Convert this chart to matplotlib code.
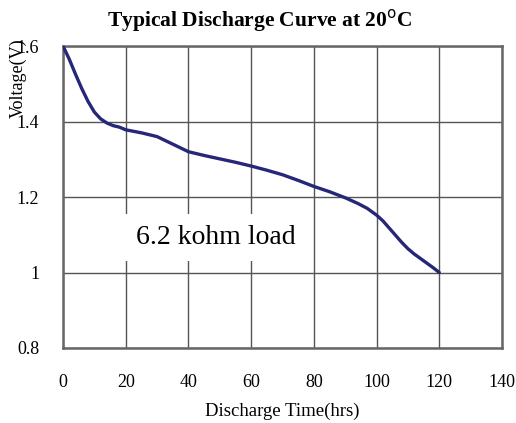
import matplotlib
matplotlib.use("Agg")
import matplotlib.pyplot as plt

hours = [0, 2, 4, 6, 8, 10, 12, 14, 16, 18, 20, 25, 30, 35, 40, 45, 50, 55, 60, 65, 70, 75, 80, 85, 90, 94, 97, 100, 102, 104, 106, 108, 110, 112, 115, 118, 120]
volts = [1.600, 1.565, 1.525, 1.487, 1.453, 1.425, 1.407, 1.396, 1.389, 1.385, 1.378, 1.370, 1.360, 1.340, 1.320, 1.310, 1.301, 1.292, 1.282, 1.271, 1.259, 1.244, 1.228, 1.214, 1.198, 1.183, 1.170, 1.152, 1.137, 1.118, 1.099, 1.080, 1.063, 1.049, 1.031, 1.013, 1.000]
x_ticks = [0, 20, 40, 60, 80, 100, 120, 140]
y_ticks = [0.8, 1.0, 1.2, 1.4, 1.6]
y_tick_labels = ["0.8", "1", "1.2", "1.4", "1.6"]

plt.rcParams['font.family'] = ['Liberation Serif', 'DejaVu Serif']

fig = plt.figure(figsize=(5.16, 4.23), dpi=100)
ax = fig.add_axes([63/516, 1-348/423, (502-63)/516, (348-46)/423])

ax.plot(hours, volts, color='#27277a', lw=2.4, solid_capstyle='round', solid_joinstyle='round', zorder=3)

ax.set_xlim(0, 140)
ax.set_ylim(0.8, 1.6)
ax.set_xticks(x_ticks)
ax.set_yticks(y_ticks)
ax.set_yticklabels(y_tick_labels)
ax.grid(True, color='#555555', lw=1.0)
ax.set_axisbelow(True)
ax.tick_params(axis='both', length=0, labelsize=13)
ax.tick_params(axis='x', pad=19)
ax.tick_params(axis='y', pad=17)
for s in ax.spines.values():
    s.set_color('#666666')
    s.set_linewidth(1.8)

ax.text(23.2, 1.093, "6.2 kohm load", fontsize=20, va='center', ha='left',
        bbox=dict(facecolor='white', edgecolor='none', pad=8), zorder=2)

ax.set_xlabel("Discharge Time(hrs)", fontsize=13.5, labelpad=8)
fig.text(18/516, 1-78/423, "Voltage(V)", rotation=90, fontsize=13, ha='center', va='center')
fig.text(0.503, 1-21/423, "Typical Discharge Curve at 20$^{\\mathrm{o}}$C", fontsize=15.5, fontweight='bold', ha='center', va='center')

fig.savefig("out.png", dpi=100)
